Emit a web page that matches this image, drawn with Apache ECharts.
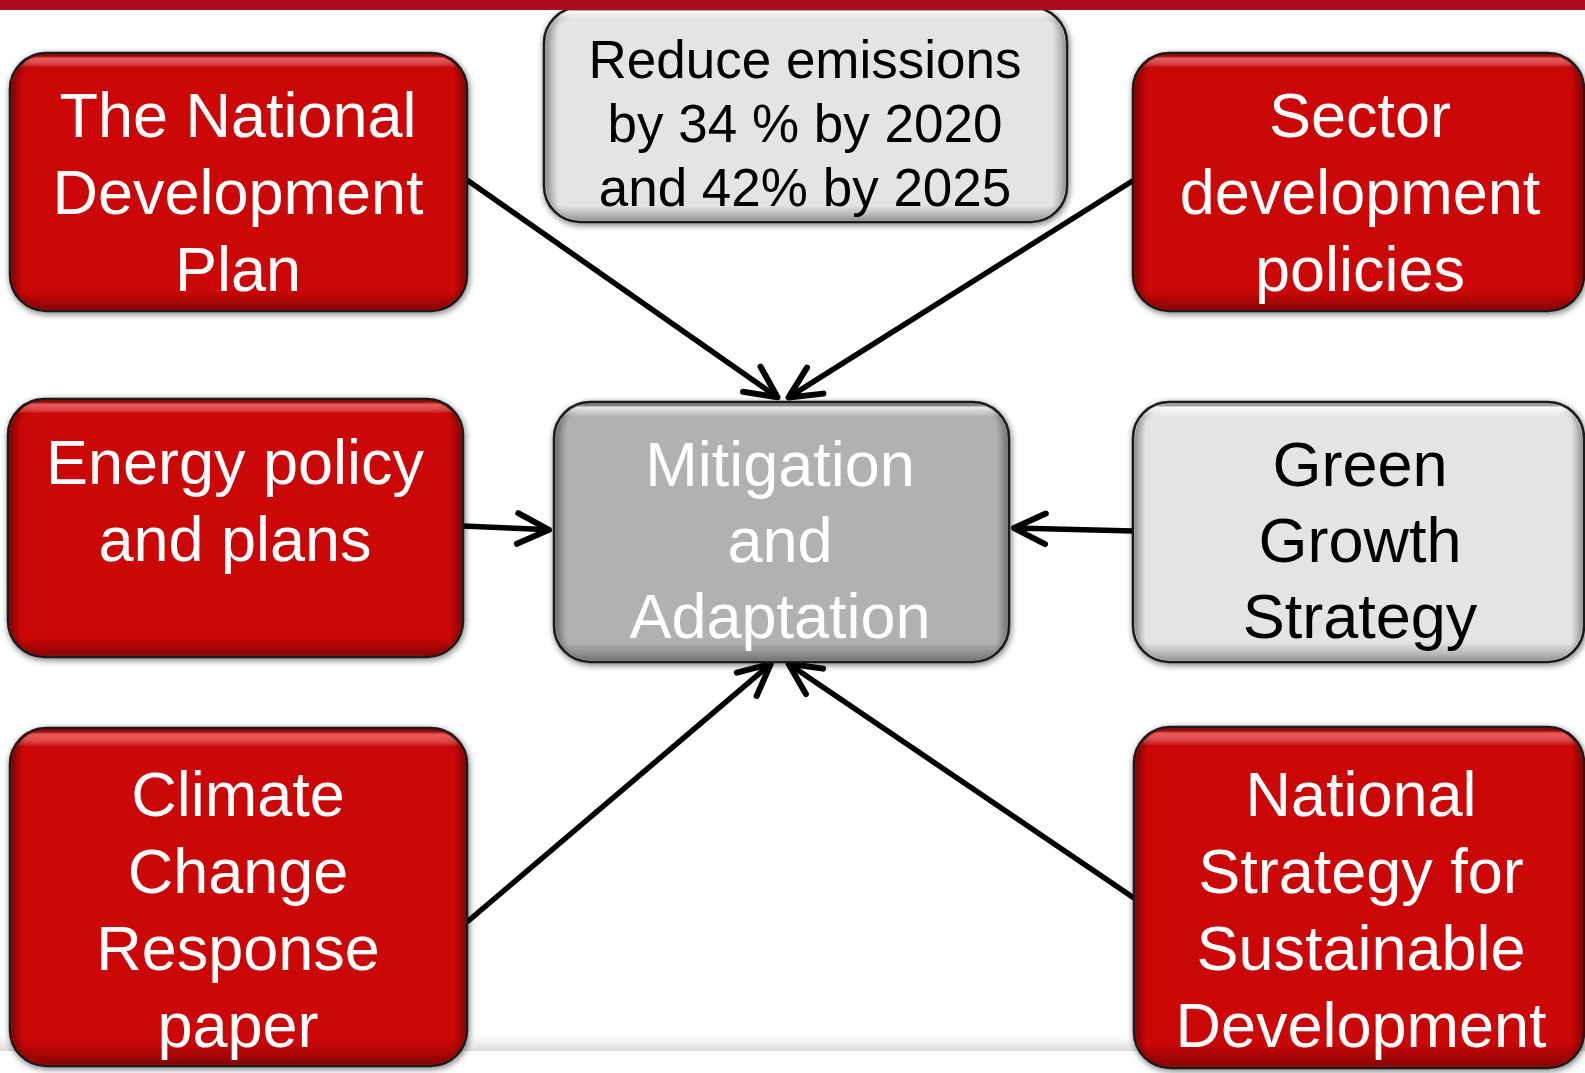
<!DOCTYPE html>
<html><head><meta charset="utf-8">
<script src="https://cdn.jsdelivr.net/npm/echarts@6/dist/echarts.min.js"></script>
<style>html,body{margin:0;padding:0;background:#fff}#c{width:1585px;height:1073px}</style>
</head><body><div id="c"></div>
<script>
// ---- data ----
const nodeLabels = [
  'The National\nDevelopment\nPlan',
  'Reduce emissions\nby 34 % by 2020\nand 42% by 2025',
  'Sector\ndevelopment\npolicies',
  'Energy policy\nand plans',
  'Mitigation\nand\nAdaptation',
  'Green\nGrowth\nStrategy',
  'Climate\nChange\nResponse\npaper',
  'National\nStrategy for\nSustainable\nDevelopment'
];
const nodeKinds = ['red', 'light', 'red', 'red', 'center', 'light', 'red', 'red'];
const links = [[0, 4], [2, 4], [3, 4], [5, 4], [6, 4], [7, 4]];

// ---- layout (positions in axis units) ----
const boxRects = [
  [10, 53, 467, 311], [544, 7, 1067, 222], [1133, 53, 1584, 311],
  [8, 399, 463, 657], [554, 402, 1009, 662], [1133, 402, 1584, 662],
  [10, 728, 467, 1066], [1134, 727, 1584, 1068]
];
const textCenters = [
  [238, 197], [805, 127], [1360, 197],
  [235, 505], [780, 545], [1360, 545],
  [238, 914], [1361, 914]
];
const linkAnchors = [
  [[467, 180], [780, 399]], [[1134, 180], [786, 399]],
  [[463, 526], [552, 530]], [[1134, 531], [1011, 528]],
  [[467, 922], [773, 662]], [[1134, 898], [786, 662]]
];

// ---- styles ----
const G = echarts.graphic;
const kindStyle = {
  red: { fill: '#CB0707', hi: 'rgba(255,110,110,0.75)', text: '#ffffff' },
  light: { fill: '#E4E4E4', hi: 'rgba(255,255,255,0.95)', text: '#000000' },
  center: { fill: '#B1B1B1', hi: 'rgba(240,240,240,0.9)', text: '#ffffff' }
};
const kindFont = ['63px', '53px', '63px', '63px', '63px', '63px', '63px', '63px'];
const kindLH = [77, 64, 77, 77, 76, 76, 77, 77];

function renderBox(params, api) {
  const i = api.value(0);
  const r = boxRects[i];
  const p0 = api.coord([r[0], r[1]]), p1 = api.coord([r[2], r[3]]);
  const w = p1[0] - p0[0], h = p1[1] - p0[1];
  const tc = api.coord(textCenters[i]);
  const st = kindStyle[nodeKinds[i]];
  const shape = { x: p0[0], y: p0[1], width: w, height: h, r: 36 };
  return {
    type: 'group',
    children: [
      { type: 'rect', shape: shape, style: { fill: st.fill, stroke: '#1a1a1a', lineWidth: 2.5,
        shadowBlur: 6, shadowColor: 'rgba(0,0,0,0.45)', shadowOffsetX: 1, shadowOffsetY: 2 } },
      { type: 'rect', shape: { x: p0[0] + 2, y: p0[1] + 2, width: w - 4, height: h - 4, r: 34 }, style: {
        fill: new G.LinearGradient(0, 0, 0, 1, [
          { offset: 0, color: 'rgba(0,0,0,0.15)' },
          { offset: 0.012, color: st.hi },
          { offset: 0.05, color: 'rgba(255,255,255,0)' },
          { offset: 0.93, color: 'rgba(0,0,0,0)' },
          { offset: 1, color: 'rgba(0,0,0,0.3)' }
        ]) } },
      { type: 'rect', shape: { x: p0[0] + 2, y: p0[1] + 2, width: w - 4, height: h - 4, r: 34 }, style: {
        fill: new G.LinearGradient(0, 0, 1, 0, [
          { offset: 0, color: 'rgba(0,0,0,0.28)' },
          { offset: 0.025, color: 'rgba(0,0,0,0)' },
          { offset: 0.975, color: 'rgba(0,0,0,0)' },
          { offset: 1, color: 'rgba(0,0,0,0.28)' }
        ]) } },
      { type: 'text', style: { text: nodeLabels[i], x: tc[0], y: tc[1], align: 'center', verticalAlign: 'middle',
        fill: st.text, font: kindFont[i] + ' "Liberation Sans", Arial, sans-serif', lineHeight: kindLH[i] } }
    ]
  };
}

function renderLink(params, api) {
  const k = api.value(0);
  const a = api.coord(linkAnchors[k][0]), b = api.coord(linkAnchors[k][1]);
  const ang = Math.atan2(b[1] - a[1], b[0] - a[0]);
  const L = 35, hA = 26 * Math.PI / 180;
  const e = [b[0] - 3 * Math.cos(ang), b[1] - 3 * Math.sin(ang)];
  const w1 = [e[0] - L * Math.cos(ang - hA), e[1] - L * Math.sin(ang - hA)];
  const w2 = [e[0] - L * Math.cos(ang + hA), e[1] - L * Math.sin(ang + hA)];
  return {
    type: 'group',
    children: [
      { type: 'line', shape: { x1: a[0], y1: a[1], x2: e[0], y2: e[1] }, style: { stroke: '#000', lineWidth: 5.5 } },
      { type: 'polyline', shape: { points: [w1, e, w2] }, style: { stroke: '#000', lineWidth: 6, fill: null, lineJoin: 'round', lineCap: 'round' } }
    ]
  };
}

const chart = echarts.init(document.getElementById('c'), null, { renderer: 'canvas' });
chart.setOption({
  animation: false,
  backgroundColor: '#ffffff',
  grid: { left: 0, right: 0, top: 0, bottom: 0 },
  xAxis: { type: 'value', min: 0, max: 1585, show: false },
  yAxis: { type: 'value', min: 0, max: 1073, inverse: true, show: false },
  graphic: [
    { type: 'rect', z: 0, shape: { x: 0, y: 1034, width: 1585, height: 17 },
      style: { fill: new G.LinearGradient(0, 0, 0, 1, [
        { offset: 0, color: 'rgba(235,235,235,0)' },
        { offset: 1, color: '#d9d9d9' }]) } },
    { type: 'rect', z: 100, shape: { x: 0, y: 0, width: 1585, height: 10 }, style: { fill: '#AE0B1F' } }
  ],
  series: [
    { type: 'custom', coordinateSystem: 'cartesian2d', z: 3, silent: true, clip: false,
      renderItem: renderLink, data: links.map((l, k) => [k, l[0], l[1]]) },
    { type: 'custom', coordinateSystem: 'cartesian2d', z: 4, silent: true, clip: false,
      renderItem: renderBox, data: nodeLabels.map((t, i) => [i]) }
  ]
});
</script>
</body></html>
